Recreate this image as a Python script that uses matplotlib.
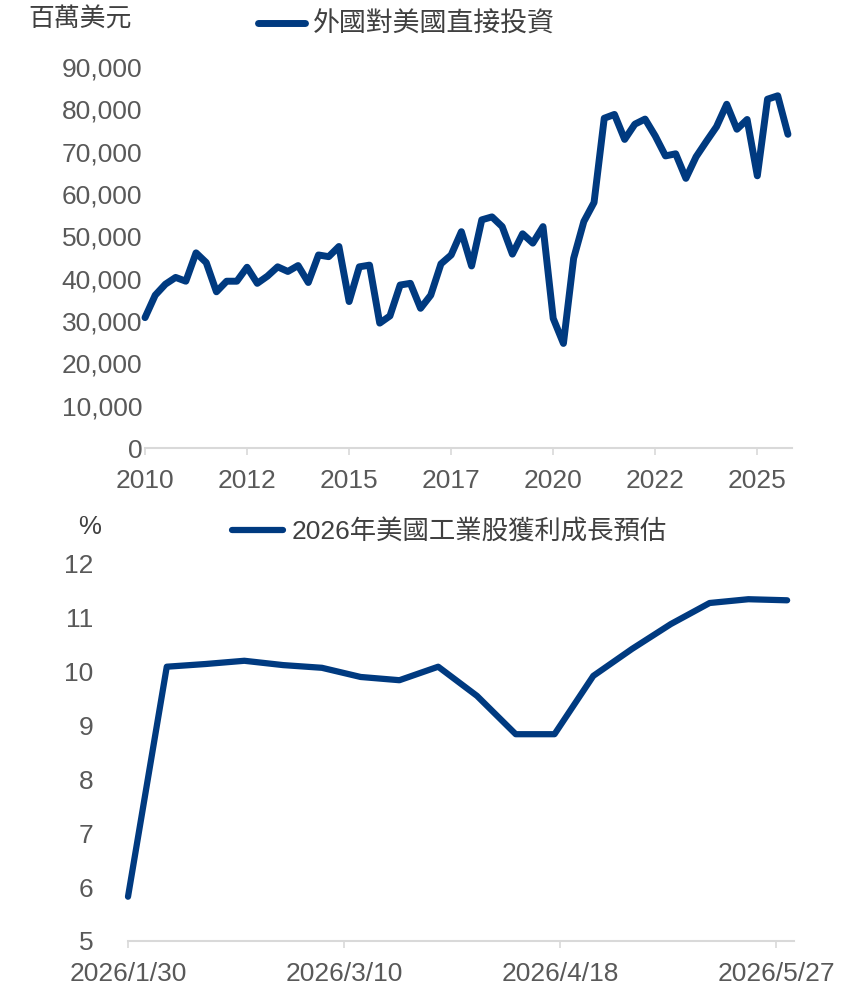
import numpy as np
import pandas as pd
import matplotlib
matplotlib.use("Agg")
import matplotlib.pyplot as plt
import matplotlib.dates as mdates
from matplotlib.ticker import FuncFormatter

plt.rcParams['font.family'] = ['Liberation Sans', 'Noto Sans CJK TC', 'DejaVu Sans']

NAVY = '#003A80'
TICK_GREY = '#595959'
TEXT_GREY = '#404040'
AXIS_GREY = '#D9D9D9'

# Quarterly FDI into the US, 2010Q1 - 2025Q4 (USD millions)
fdi_quarters = pd.period_range('2010Q1', '2025Q4', freq='Q').astype(str).tolist()
fdi_values = [30800, 36100, 38700, 40300, 39400, 46100, 43800, 36900,
              39400, 39400, 42700, 38900, 40600, 42800, 41700, 43100,
              39100, 45600, 45200, 47600, 34600, 42800, 43200, 29500,
              31200, 38500, 38900, 33000, 36100, 43500, 45600, 51100,
              43000, 53900, 54600, 52300, 45800, 50600, 48400, 52300,
              30600, 24700, 44800, 53500, 58000, 77900, 78800, 72900,
              76500, 77700, 73700, 69000, 69500, 63700, 68800, 72400,
              75900, 81200, 75300, 77600, 64300, 82400, 83200, 74100]
fdi_tick_pos = [0, 10, 20, 30, 40, 50, 60]
fdi_tick_labels = ['2010', '2012', '2015', '2017', '2020', '2022', '2025']

# Weekly consensus for 2026 US industrials earnings growth (%)
eps_dates = ['2026-01-30', '2026-02-06', '2026-02-13', '2026-02-20', '2026-02-27',
             '2026-03-06', '2026-03-13', '2026-03-20', '2026-03-27', '2026-04-03',
             '2026-04-10', '2026-04-17', '2026-04-24', '2026-05-01', '2026-05-08',
             '2026-05-15', '2026-05-22', '2026-05-29']
eps_growth = [5.82, 10.08, 10.13, 10.19, 10.11, 10.06, 9.89, 9.83, 10.08,
              9.54, 8.83, 8.83, 9.91, 10.41, 10.87, 11.26, 11.33, 11.31]
eps_ticks = ['2026-01-30', '2026-03-10', '2026-04-18', '2026-05-27']

FS = 19


def style_axis(ax):
    for side in ['top', 'right', 'left']:
        ax.spines[side].set_visible(False)
    ax.spines['bottom'].set_color(AXIS_GREY)
    ax.spines['bottom'].set_linewidth(1.5)
    ax.tick_params(axis='x', colors=AXIS_GREY, length=5, width=1.2,
                   labelcolor=TICK_GREY, labelsize=FS, pad=10)
    ax.tick_params(axis='y', length=0, labelcolor=TICK_GREY, labelsize=FS)


fig = plt.figure(figsize=(8.46, 9.84), dpi=100)

# top panel
ax1 = fig.add_axes([0.1714, 0.5447, 0.7648, 0.3872])
x = np.arange(len(fdi_values))
ax1.plot(x, fdi_values, color=NAVY, lw=5, solid_joinstyle='round',
         solid_capstyle='round', clip_on=False, label='外國對美國直接投資')
ax1.set_xlim(0, 63.4)
ax1.set_ylim(0, 90000)
ax1.set_yticks(np.arange(0, 90001, 10000))
ax1.yaxis.set_major_formatter(FuncFormatter(lambda v, p: f'{v:,.0f}'))
ax1.set_xticks(fdi_tick_pos)
ax1.set_xticklabels(fdi_tick_labels)
style_axis(ax1)
ax1.tick_params(axis='y', pad=2)
ax1.legend(loc='center left', bbox_to_anchor=(258 / 846, 1 - 25 / 984),
           bbox_transform=fig.transFigure, frameon=False, fontsize=19.4,
           handlelength=1.75, handletextpad=0.3, borderpad=0, borderaxespad=0,
           labelcolor=TEXT_GREY)
fig.text(28 / 846, 1 - 20 / 984, '百萬美元', fontsize=18.6, color=TEXT_GREY,
         ha='left', va='center')

# bottom panel
ax2 = fig.add_axes([0.1513, 0.0437, 0.787, 0.3841])
d = pd.to_datetime(eps_dates)
ax2.plot(d, eps_growth, color=NAVY, lw=4.5, solid_joinstyle='round',
         solid_capstyle='round', clip_on=False,
         label='2026年美國工業股獲利成長預估')
start = pd.Timestamp('2026-01-30')
ax2.set_xlim(start, start + pd.Timedelta(days=120.2))
ax2.set_ylim(5, 12)
ax2.set_yticks(range(5, 13))
ax2.set_xticks(pd.to_datetime(eps_ticks))
ax2.xaxis.set_major_formatter(FuncFormatter(
    lambda v, p: (lambda t: f'{t.year}/{t.month}/{t.day}')(mdates.num2date(v))))
style_axis(ax2)
ax2.tick_params(axis='y', pad=25)
ax2.legend(loc='center left', bbox_to_anchor=(232 / 846, 1 - 532 / 984),
           bbox_transform=fig.transFigure, frameon=False, fontsize=19,
           handlelength=1.95, handletextpad=0.3, borderpad=0, borderaxespad=0,
           labelcolor=TEXT_GREY)
fig.text(90 / 846, 1 - 527 / 984, '%', fontsize=18.6, color=TEXT_GREY,
         ha='center', va='center')

fig.savefig('out.png', dpi=100)
